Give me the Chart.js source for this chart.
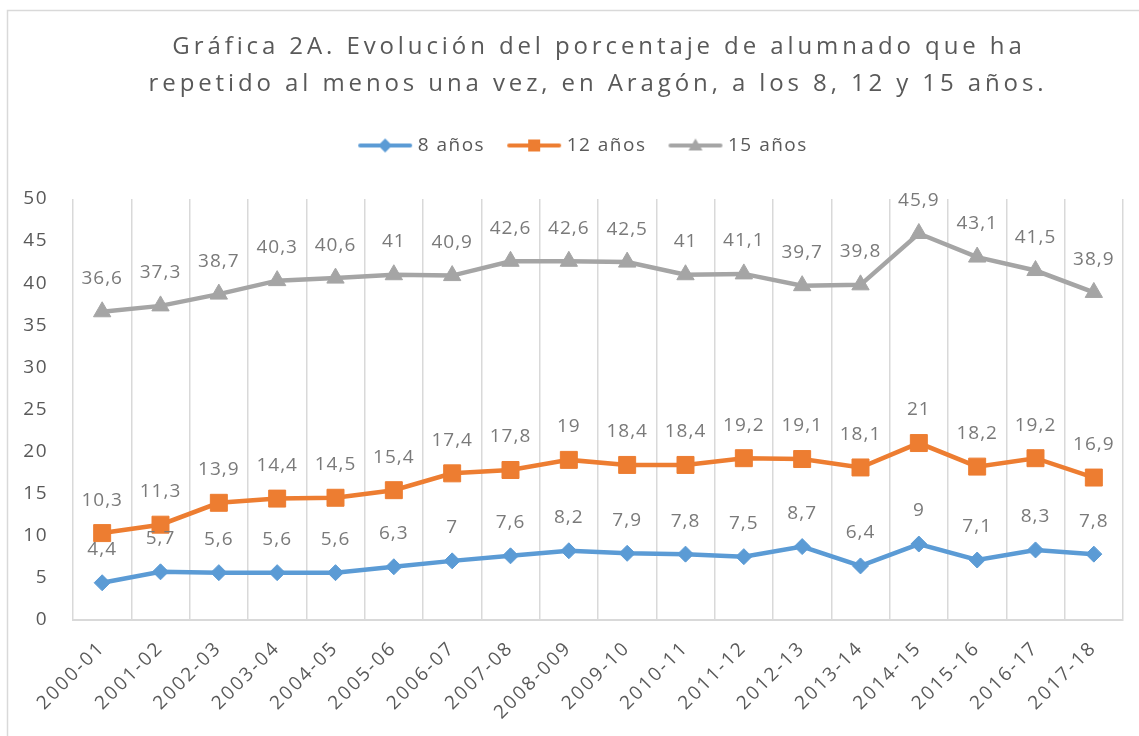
<!DOCTYPE html>
<html>
<head>
<meta charset="utf-8">
<script src="https://cdn.jsdelivr.net/npm/chart.js@4"></script>
<style>
  html, body { margin: 0; background: #fff; }
  #wrap { width: 1139px; height: 736px; }
</style>
</head>
<body>
<div id="wrap"><canvas id="myChart"></canvas></div>
<script>
const categories = ['2000-01', '2001-02', '2002-03', '2003-04', '2004-05', '2005-06', '2006-07',
  '2007-08', '2008-009', '2009-10', '2010-11', '2011-12', '2012-13', '2013-14', '2014-15',
  '2015-16', '2016-17', '2017-18'];
const ochoAnos = [4.4, 5.7, 5.6, 5.6, 5.6, 6.3, 7, 7.6, 8.2, 7.9, 7.8, 7.5, 8.7, 6.4, 9, 7.1, 8.3, 7.8];
const doceAnos = [10.3, 11.3, 13.9, 14.4, 14.5, 15.4, 17.4, 17.8, 19, 18.4, 18.4, 19.2, 19.1, 18.1, 21, 18.2, 19.2, 16.9];
const quinceAnos = [36.6, 37.3, 38.7, 40.3, 40.6, 41, 40.9, 42.6, 42.6, 42.5, 41, 41.1, 39.7, 39.8, 45.9, 43.1, 41.5, 38.9];
const yTicks = [0, 5, 10, 15, 20, 25, 30, 35, 40, 45, 50];
const seriesNames = ['8 años', '12 años', '15 años'];
const titleLines = ['Gráfica 2A. Evolución del porcentaje de alumnado que ha',
  'repetido al menos una vez, en Aragón, a los 8, 12 y 15 años.'];

const FONT = '"Open Sans", "Noto Sans", sans-serif';
const colors = ['#5b9bd5', '#ed7d31', '#a5a5a5'];
const styles = ['rectRot', 'rect', 'triangle'];

const fmt = v => String(v).replace('.', ',');

// small canvas with line + marker for the legend
function legendIcon(color, style) {
  const c = document.createElement('canvas');
  c.width = 56; c.height = 20;
  const g = c.getContext('2d');
  g.strokeStyle = color; g.fillStyle = color;
  g.lineWidth = 4; g.lineCap = 'round';
  g.beginPath(); g.moveTo(3, 10); g.lineTo(53, 10); g.stroke();
  g.beginPath();
  if (style === 'rectRot') {
    g.moveTo(28, 3); g.lineTo(35, 10); g.lineTo(28, 17); g.lineTo(21, 10);
  } else if (style === 'rect') {
    g.rect(22, 4, 12, 12);
  } else {
    g.moveTo(28, 3); g.lineTo(35, 15); g.lineTo(21, 15);
  }
  g.closePath(); g.fill();
  return c;
}

const frame = {
  id: 'frame',
  beforeDraw(chart) {
    const ctx = chart.ctx;
    ctx.save();
    ctx.strokeStyle = '#d9d9d9';
    ctx.lineWidth = 1.5;
    ctx.beginPath();
    ctx.moveTo(7.5, 800); ctx.lineTo(7.5, 10.5); ctx.lineTo(1200, 10.5);
    ctx.stroke();
    ctx.restore();
    ctx.letterSpacing = '1.5px';
  },
  beforeDatasetsDraw(chart) {
    chart.ctx.letterSpacing = '0px';
  },
  afterDatasetsDraw(chart) {
    // x tick labels are drawn after the datasets (ticks.z = 1), spaced wider
    chart.ctx.letterSpacing = '2.3px';
  },
  afterDraw(chart) {
    const ctx = chart.ctx;
    ctx.save();
    ctx.font = '24px ' + FONT;
    ctx.fillStyle = '#595959';
    ctx.textAlign = 'center';
    ctx.textBaseline = 'middle';
    ctx.letterSpacing = '3.9px';
    ctx.fillText(titleLines[0], 599, 47);
    ctx.fillText(titleLines[1], 598, 84);
    ctx.restore();
    ctx.letterSpacing = '0px';
  }
};

const valueLabels = {
  id: 'valueLabels',
  afterDatasetsDraw(chart) {
    const ctx = chart.ctx;
    ctx.save();
    ctx.font = '19px ' + FONT;
    ctx.fillStyle = '#7a7a7a';
    ctx.textAlign = 'center';
    ctx.textBaseline = 'middle';
    ctx.letterSpacing = '1px';
    chart.data.datasets.forEach((ds, i) => {
      chart.getDatasetMeta(i).data.forEach((pt, j) => {
        ctx.fillText(fmt(ds.data[j]), pt.x, pt.y - 33);
      });
    });
    ctx.restore();
  }
};

const legendSpace = {
  id: 'legendSpace',
  beforeInit(chart) {
    const fit = chart.legend.fit;
    chart.legend.fit = function () {
      fit.bind(chart.legend)();
      this.height += 34;
    };
  },
  afterUpdate(chart) {
    chart.legend.left -= 3;
    chart.legend.right -= 3;
  }
};

function makeSet(label, data, i) {
  return {
    label: label,
    data: data,
    borderColor: colors[i],
    backgroundColor: colors[i],
    borderWidth: 4.5,
    pointStyle: styles[i],
    pointRadius: [8, 12, 10][i],
    pointBorderWidth: 1,
    pointHoverRadius: [8, 12, 10][i],
    tension: 0
  };
}

const ctx = document.getElementById('myChart').getContext('2d');
new Chart(ctx, {
  type: 'line',
  data: {
    labels: categories,
    datasets: [
      makeSet(seriesNames[0], ochoAnos, 0),
      makeSet(seriesNames[1], doceAnos, 1),
      makeSet(seriesNames[2], quinceAnos, 2)
    ]
  },
  options: {
    responsive: true,
    maintainAspectRatio: false,
    animation: false,
    layout: { padding: { top: 110, left: 23, right: 16, bottom: 8 } },
    plugins: {
      title: { display: false },
      tooltip: { enabled: false },
      legend: {
        position: 'top',
        labels: {
          usePointStyle: true,
          pointStyleWidth: 46,
          padding: 26,
          color: '#595959',
          font: { size: 19, family: FONT },
          generateLabels(chart) {
            return chart.data.datasets.map((ds, i) => ({
              text: ds.label,
              pointStyle: legendIcon(colors[i], styles[i]),
              fillStyle: colors[i],
              strokeStyle: colors[i],
              lineWidth: 0,
              fontColor: '#595959',
              hidden: false,
              datasetIndex: i
            }));
          }
        }
      }
    },
    scales: {
      x: {
        offset: true,
        grid: { offset: true, color: '#d9d9d9', lineWidth: 1.5, drawTicks: false },
        border: { color: '#d9d9d9', width: 2 },
        afterFit(scale) {
          scale.paddingLeft = 0;
        },
        ticks: {
          z: 1,
          autoSkip: false,
          minRotation: 45,
          maxRotation: 45,
          padding: 17,
          color: '#595959',
          font: { size: 19, family: FONT }
        }
      },
      y: {
        min: 0,
        max: 50,
        grid: { display: false, drawTicks: false },
        border: { display: false },
        afterBuildTicks(scale) {
          scale.ticks = yTicks.map(v => ({ value: v }));
        },
        afterFit(scale) {
          scale.width = 50;
        },
        ticks: {
          padding: 25,
          color: '#595959',
          font: { size: 19, family: FONT }
        }
      }
    }
  },
  plugins: [frame, valueLabels, legendSpace]
});
</script>
</body>
</html>
